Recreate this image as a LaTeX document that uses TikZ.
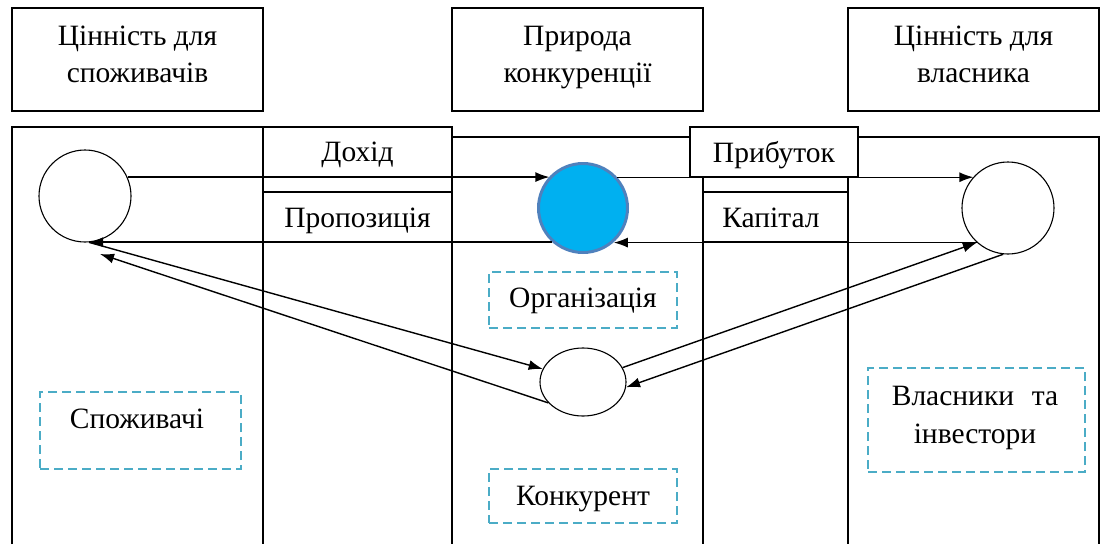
\documentclass[tikz,border=0pt]{standalone}
\usepackage{fontspec}
\setmainfont{Liberation Serif}
\usetikzlibrary{arrows.meta,shapes.geometric}
\definecolor{dashc}{RGB}{75,172,198}
\definecolor{orgfill}{RGB}{0,176,240}
\definecolor{orgline}{RGB}{79,129,189}
\begin{document}
\begin{tikzpicture}[x=1pt,y=-1pt,
  box/.style={draw, line width=1.5pt, rectangle, inner sep=0pt},
  txt/.style={font=\fontsize{29.5}{35}\selectfont, inner sep=0pt, anchor=base},
  dbox/.style={draw=dashc, dash pattern=on 9pt off 5pt, line width=1.6pt, rectangle, inner sep=0pt},
  arr/.style={line width=1.4pt, -{Latex[length=14pt,width=10pt]}},
  ring/.style={draw, circle, line width=1.1pt, inner sep=0pt, minimum size=92pt},
  frame/.style={line width=1.5pt}]
\useasboundingbox (0,0) rectangle (1101,544);

% top header boxes
\node[box, minimum width=251pt, minimum height=103pt] (h1) at (137.5,59.5) {};
\node[box, minimum width=251pt, minimum height=103pt] (h2) at (577.5,59.5) {};
\node[box, minimum width=251pt, minimum height=103pt] (h3) at (973.5,59.5) {};
\node[txt] (h1a) at (137.5,45) {Цінність для};
\node[txt] (h1b) at (137.5,82) {споживачів};
\node[txt] (h2a) at (577.5,45) {Природа};
\node[txt] (h2b) at (577.5,82) {конкуренції};
\node[txt] (h3a) at (973.5,45) {Цінність для};
\node[txt] (h3b) at (973.5,82) {власника};

% columns
\draw[frame] (12,544) -- (12,127) -- (452,127);
\draw[frame] (263,127) -- (263,544);
\draw[frame] (452,127) -- (452,544);
\draw[frame] (452,137) -- (690,137);
\draw[frame] (703,177) -- (703,544);
\draw[frame] (848,177) -- (848,544);
\draw[frame] (858,137) -- (1099,137) -- (1099,544);

% flow label boxes
\node[box, minimum width=189pt, minimum height=50pt] (bDoh) at (357.5,152) {};
\node[box, minimum width=189pt, minimum height=50pt] (bPro) at (357.5,217) {};
\node[box, minimum width=168pt, minimum height=50pt] (bPri) at (774,152) {};
\node[box, minimum width=145pt, minimum height=50pt] (bKap) at (775.5,217) {};
\node[txt] (tDoh) at (357.5,161) {Дохід};
\node[txt] (tPro) at (357.5,227) {Пропозиція};
\node[txt] (tPri) at (774,162) {Прибуток};
\node[txt] (tKap) at (771,227) {Капітал};

% actors
\node[ring, fill=white] (leftc) at (85,196) {};
\node[ring, fill=white] (rightc) at (1008,208) {};
\node[circle, draw=orgline, fill=orgfill, line width=3pt, inner sep=0pt, minimum size=89pt] (org) at (583,208) {};
\node[ellipse, draw, line width=1.1pt, fill=white, inner sep=0pt, minimum width=86pt, minimum height=68pt] (comp) at (583,382) {};
\coordinate (lcTip) at (100,254);

% arrows
\draw[arr] (leftc.24) -- (leftc.24 -| org.137);
\draw[arr] (org.42) -- (org.42 -| rightc.138);
\draw[arr] (rightc.228) -- (rightc.228 -| org.-48);
\draw[arr] (org.228) -- (org.228 -| leftc.-85);
\draw[arr] (leftc.-85) -- (comp.162);
\draw[arr] (comp.211) -- (lcTip);
\draw[arr] (comp.20) -- (rightc.228);
\draw[arr] (rightc.264) -- (comp.-7);

% dashed labels
\node[dbox, minimum width=201pt, minimum height=77pt] (dCons) at (140.5,430.5) {};
\node[txt] (tCons) at (137,428) {Споживачі};
\node[dbox, minimum width=188pt, minimum height=56pt] (dOrg) at (583,300) {};
\node[txt] (tOrg) at (583,307) {Організація};
\node[dbox, minimum width=188pt, minimum height=54pt] (dComp) at (583,496) {};
\node[txt] (tComp) at (583,505) {Конкурент};
\node[dbox, minimum width=217pt, minimum height=104pt] (dOwn) at (976.5,420) {};
\node[txt] (tOwn1) at (975,405) {Власники\hspace{0.6em}та};
\node[txt] (tOwn2) at (975,443) {інвестори};
\end{tikzpicture}
\end{document}
